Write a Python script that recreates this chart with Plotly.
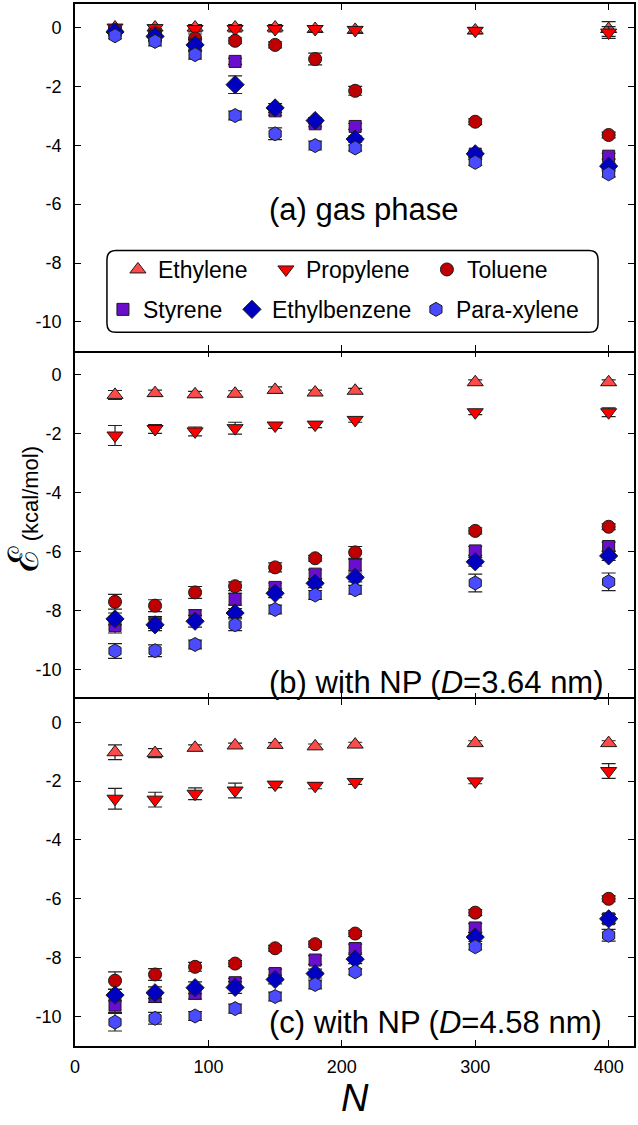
import plotly.graph_objects as go

N = [30, 60, 90, 120, 150, 180, 210, 300, 400]
species = ["Ethylene", "Propylene", "Toluene", "Styrene", "Ethylbenzene", "Para-xylene"]

# (a) gas phase
gas_ethylene = [0.0, 0.0, 0.0, 0.0, 0.0, -0.05, -0.08, -0.10, -0.05]
gas_propylene = [0.0, -0.02, -0.05, -0.05, -0.05, -0.05, -0.08, -0.11, -0.17]
gas_toluene = [-0.10, -0.20, -0.37, -0.45, -0.59, -1.07, -2.15, -3.20, -3.65]
gas_styrene = [-0.12, -0.30, -0.60, -1.15, -2.83, -3.27, -3.36, -4.30, -4.37]
gas_ethylbenzene = [-0.15, -0.30, -0.59, -1.94, -2.73, -3.16, -3.79, -4.29, -4.71]
gas_paraxylene = [-0.28, -0.47, -0.92, -2.99, -3.61, -4.01, -4.09, -4.58, -4.97]
gas_err_ethylene = [0.08, 0.08, 0.10, 0.10, 0.10, 0.10, 0.10, 0.10, 0.25]
gas_err_propylene = [0.08, 0.08, 0.10, 0.10, 0.10, 0.10, 0.10, 0.10, 0.20]
gas_err_toluene = [0.10, 0.15, 0.15, 0.10, 0.10, 0.20, 0.15, 0.10, 0.10]
gas_err_styrene = [0.10, 0.15, 0.20, 0.10, 0.15, 0.10, 0.10, 0.10, 0.10]
gas_err_ethylbenzene = [0.10, 0.15, 0.20, 0.30, 0.15, 0.10, 0.10, 0.10, 0.10]
gas_err_paraxylene = [0.10, 0.15, 0.15, 0.15, 0.20, 0.15, 0.10, 0.10, 0.10]

# (b) with NP, D = 3.64 nm
np1_ethylene = [-0.68, -0.62, -0.66, -0.64, -0.51, -0.60, -0.54, -0.25, -0.25]
np1_propylene = [-2.06, -1.84, -1.92, -1.81, -1.72, -1.69, -1.53, -1.27, -1.27]
np1_toluene = [-7.71, -7.84, -7.39, -7.18, -6.54, -6.23, -6.03, -5.30, -5.16]
np1_styrene = [-8.52, -8.41, -8.18, -7.62, -7.22, -6.77, -6.46, -5.98, -5.83]
np1_ethylbenzene = [-8.29, -8.49, -8.37, -8.09, -7.42, -7.08, -6.88, -6.35, -6.15]
np1_paraxylene = [-9.38, -9.37, -9.16, -8.49, -7.97, -7.48, -7.30, -7.07, -7.03]
np1_err_ethylene = [0.15, 0.10, 0.10, 0.10, 0.10, 0.08, 0.08, 0.08, 0.08]
np1_err_propylene = [0.34, 0.15, 0.15, 0.20, 0.10, 0.10, 0.08, 0.08, 0.15]
np1_err_toluene = [0.25, 0.20, 0.20, 0.15, 0.15, 0.10, 0.20, 0.10, 0.10]
np1_err_styrene = [0.25, 0.20, 0.20, 0.20, 0.15, 0.15, 0.20, 0.15, 0.15]
np1_err_ethylbenzene = [0.20, 0.20, 0.20, 0.15, 0.15, 0.15, 0.15, 0.15, 0.15]
np1_err_paraxylene = [0.25, 0.20, 0.15, 0.20, 0.15, 0.15, 0.15, 0.30, 0.30]

# (c) with NP, D = 4.58 nm
np2_ethylene = [-1.02, -1.05, -0.87, -0.79, -0.77, -0.82, -0.76, -0.71, -0.71]
np2_propylene = [-2.60, -2.63, -2.43, -2.32, -2.12, -2.16, -2.03, -2.01, -1.66]
np2_toluene = [-8.78, -8.57, -8.31, -8.20, -7.68, -7.54, -7.18, -6.47, -6.00]
np2_styrene = [-9.61, -9.32, -9.21, -8.85, -8.54, -8.08, -7.69, -6.99, -6.68]
np2_ethylbenzene = [-9.27, -9.19, -9.02, -9.01, -8.74, -8.54, -8.05, -7.30, -6.68]
np2_paraxylene = [-10.19, -10.06, -9.98, -9.73, -9.32, -8.91, -8.48, -7.63, -7.24]
np2_err_ethylene = [0.25, 0.15, 0.10, 0.08, 0.08, 0.08, 0.08, 0.08, 0.08]
np2_err_propylene = [0.35, 0.25, 0.20, 0.25, 0.10, 0.10, 0.08, 0.08, 0.25]
np2_err_toluene = [0.30, 0.20, 0.15, 0.10, 0.10, 0.10, 0.10, 0.10, 0.10]
np2_err_styrene = [0.25, 0.20, 0.20, 0.15, 0.15, 0.15, 0.15, 0.15, 0.15]
np2_err_ethylbenzene = [0.20, 0.20, 0.20, 0.20, 0.15, 0.15, 0.15, 0.15, 0.15]
np2_err_paraxylene = [0.30, 0.20, 0.15, 0.15, 0.15, 0.15, 0.10, 0.10, 0.20]

panel_labels = ["(a) gas phase", "(b) with NP (<i>D</i>=3.64 nm)", "(c) with NP (<i>D</i>=4.58 nm)"]
x_ticks = [0, 100, 200, 300, 400]
y_tickvals = [0, -2, -4, -6, -8, -10]
y_ticktext = ["0", "-2", "-4", "-6", "-8", "-10"]

symbols = ["triangle-up", "triangle-down", "circle", "square", "diamond", "hexagon"]
colors = ["#FF4A4A", "#FF0000", "#C00000", "#6A0DCC", "#0000C0", "#4A4AFF"]
sizes = [14, 14, 13, 12, 14, 14]
legend_rows = ["legend", "legend", "legend", "legend2", "legend2", "legend2"]
legend_widths = [103, 116, 80, 84, 139, 130]

panels = [
    ("x3", "y3", [gas_ethylene, gas_propylene, gas_toluene, gas_styrene, gas_ethylbenzene, gas_paraxylene],
     [gas_err_ethylene, gas_err_propylene, gas_err_toluene, gas_err_styrene, gas_err_ethylbenzene, gas_err_paraxylene]),
    ("x2", "y2", [np1_ethylene, np1_propylene, np1_toluene, np1_styrene, np1_ethylbenzene, np1_paraxylene],
     [np1_err_ethylene, np1_err_propylene, np1_err_toluene, np1_err_styrene, np1_err_ethylbenzene, np1_err_paraxylene]),
    ("x", "y", [np2_ethylene, np2_propylene, np2_toluene, np2_styrene, np2_ethylbenzene, np2_paraxylene],
     [np2_err_ethylene, np2_err_propylene, np2_err_toluene, np2_err_styrene, np2_err_ethylbenzene, np2_err_paraxylene]),
]

FONT = "Liberation Sans, Arial, sans-serif"
fig = go.Figure()
for p, (xa, ya, series, errs) in enumerate(panels):
    for i, name in enumerate(species):
        fig.add_trace(go.Scatter(
            x=N, y=series[i], xaxis=xa, yaxis=ya, mode="markers", name=name,
            showlegend=(p == 0), legend=legend_rows[i], legendwidth=legend_widths[i],
            marker=dict(symbol=symbols[i], size=sizes[i], color=colors[i],
                        line=dict(color="#1a1a1a", width=1)),
            error_y=dict(type="data", array=errs[i], visible=True, color="#222222",
                         thickness=1.2, width=7),
        ))

axis_common = dict(showline=True, linewidth=1.8, linecolor="black", mirror="ticks",
                   ticks="inside", ticklen=6, tickwidth=1, tickcolor="black",
                   showgrid=False, zeroline=False,
                   tickfont=dict(family=FONT, size=18, color="black"))

domains = {"": [0, 1/3], "2": [1/3, 2/3], "3": [2/3, 1]}
for k, dom in domains.items():
    fig.layout["xaxis" + k] = dict(axis_common, range=[0, 419], tickvals=x_ticks,
                                   showticklabels=(k == ""), anchor="y" + k,
                                   showline=(k != "2"),
                                   ticklabelstandoff=3, domain=[0, 1])
    fig.layout["yaxis" + k] = dict(axis_common, range=[-11, 0.8], tickvals=y_tickvals,
                                   ticktext=y_ticktext, anchor="x" + k, domain=dom,
                                   ticklabelstandoff=8)

PB, PH = 1046, 1044  # plot-area bottom (px) and height (px)

def py(px):
    return (PB - px) / PH

annotations = []
for ypx, idx in [(208, 0), (682, 1), (1022, 2)]:
    annotations.append(dict(text=panel_labels[idx], xref="paper", yref="paper",
                            x=(267 - 75) / 560, y=py(ypx), xanchor="left", yanchor="middle",
                            showarrow=False, font=dict(family=FONT, size=31, color="black")))
annotations.append(dict(text="<span style='font-size:42px'>ℰ</span> (kcal/mol)",
                        xref="paper", yref="paper", x=-0.093, y=0.515, textangle=-90,
                        xanchor="center", yanchor="middle", showarrow=False,
                        font=dict(family=FONT, size=22, color="black")))
annotations.append(dict(text="<i>N</i>", xref="paper", yref="paper", x=0.5, y=-0.05,
                        xanchor="center", yanchor="middle", showarrow=False,
                        font=dict(family=FONT, size=38, color="black")))

# rounded legend frame
x0, x1 = (107 - 75) / 560, (599 - 75) / 560
y0, y1 = py(331), py(249)
rx, ry = 9 / 560, 9 / PH
path = (f"M {x0+rx},{y1} L {x1-rx},{y1} Q {x1},{y1} {x1},{y1-ry} L {x1},{y0+ry} "
        f"Q {x1},{y0} {x1-rx},{y0} L {x0+rx},{y0} Q {x0},{y0} {x0},{y0+ry} "
        f"L {x0},{y1-ry} Q {x0},{y1} {x0+rx},{y1} Z")

leg_common = dict(orientation="h", xanchor="left", yanchor="middle",
                  bgcolor="rgba(0,0,0,0)", borderwidth=0,
                  font=dict(family=FONT, size=23, color="black"))
fig.update_layout(
    width=638, height=1125,
    margin=dict(l=75, r=3, t=2, b=79),
    paper_bgcolor="white", plot_bgcolor="white",
    showlegend=True,
    legend=dict(leg_common, x=(118 - 75) / 560, y=py(268)),
    legend2=dict(leg_common, x=(103 - 75) / 560, y=py(308)),
    annotations=annotations,
    shapes=[dict(type="path", path=path, xref="paper", yref="paper",
                 line=dict(color="black", width=1.5), fillcolor="white", layer="below")],
)
fig.write_html("out.html", config={"displayModeBar": False},
               post_script="document.body.style.margin='0';")
